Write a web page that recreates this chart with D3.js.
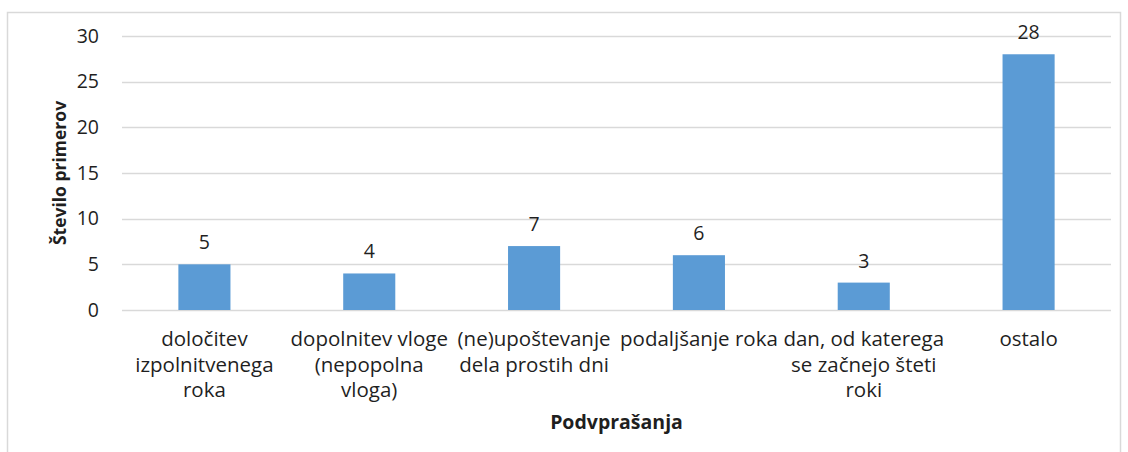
<!DOCTYPE html>
<html>
<head>
<meta charset="utf-8">
<script src="https://cdn.jsdelivr.net/npm/d3@7"></script>
<style>
  body { margin: 0; background: #fff; }
  svg text { font-family: "Open Sans", sans-serif; fill: #1f1f1f; }
</style>
</head>
<body>
<div id="chart"></div>
<script>
// data
var categories = ["c1", "c2", "c3", "c4", "c5", "c6"];
var categoryLines = [
    ["določitev", "izpolnitvenega", "roka"],
    ["dopolnitev vloge", "(nepopolna", "vloga)"],
    ["(ne)upoštevanje", "dela prostih dni"],
    ["podaljšanje roka"],
    ["dan, od katerega", "se začnejo šteti", "roki"],
    ["ostalo"]
];
var values = [5, 4, 7, 6, 3, 28];
var yTicks = [0, 5, 10, 15, 20, 25, 30];
var yTitle = "Število primerov";
var xTitle = "Podvprašanja";

var W = 1128, H = 452;
var plot = {left: 122, right: 1111, top: 36, bottom: 310};

var svg = d3.select("#chart").append("svg")
    .attr("width", W)
    .attr("height", H);

// outer chart border
svg.append("rect")
    .attr("x", 7.5).attr("y", 12.5)
    .attr("width", 1113).attr("height", 460)
    .attr("fill", "none")
    .attr("stroke", "#d9d9d9")
    .attr("stroke-width", 1.5);

var x = d3.scaleBand()
    .domain(categories)
    .range([plot.left, plot.right])
    .paddingInner(0.684)
    .paddingOuter(0.342);

var y = d3.scaleLinear()
    .domain([0, 30])
    .range([plot.bottom, plot.top]);

// gridlines
svg.append("g")
    .selectAll("line")
    .data(yTicks)
    .enter().append("line")
        .attr("x1", plot.left)
        .attr("x2", plot.right)
        .attr("y1", d => Math.round(y(d)) + 0.5)
        .attr("y2", d => Math.round(y(d)) + 0.5)
        .attr("stroke", "#d9d9d9")
        .attr("stroke-width", 1.5);

// y tick labels
svg.append("g")
    .selectAll("text")
    .data(yTicks)
    .enter().append("text")
        .attr("x", 99)
        .attr("y", d => y(d))
        .attr("dy", "0.35em")
        .attr("text-anchor", "end")
        .style("font-size", "19.5px")
        .text(d => d);

// bars
svg.append("g")
    .selectAll("rect")
    .data(values)
    .enter().append("rect")
        .attr("x", (d, i) => x(categories[i]))
        .attr("y", d => y(d))
        .attr("width", x.bandwidth())
        .attr("height", d => y(0) - y(d))
        .attr("fill", "#5b9bd5");

// value labels
svg.append("g")
    .selectAll("text")
    .data(values)
    .enter().append("text")
        .attr("x", (d, i) => x(categories[i]) + x.bandwidth() / 2)
        .attr("y", d => y(d) - 15)
        .attr("text-anchor", "middle")
        .style("font-size", "19.5px")
        .text(d => d);

// category labels
var catG = svg.append("g")
    .selectAll("text")
    .data(categoryLines)
    .enter().append("text")
        .attr("text-anchor", "middle")
        .style("font-size", "20.5px");

catG.each(function(lines, i) {
    var cx = x(categories[i]) + x.bandwidth() / 2;
    d3.select(this).selectAll("tspan")
        .data(lines)
        .enter().append("tspan")
            .attr("x", cx)
            .attr("y", (d, j) => 346 + j * 25.5)
            .text(d => d);
});

// axis titles
svg.append("text")
    .attr("x", (plot.left + plot.right) / 2)
    .attr("y", 429)
    .attr("text-anchor", "middle")
    .style("font-size", "19.5px")
    .style("font-weight", "bold")
    .text(xTitle);

svg.append("text")
    .attr("transform", "translate(66," + ((plot.top + plot.bottom) / 2) + ") rotate(-90)")
    .attr("text-anchor", "middle")
    .style("font-size", "17.5px")
    .style("font-weight", "bold")
    .text(yTitle);
</script>
</body>
</html>
